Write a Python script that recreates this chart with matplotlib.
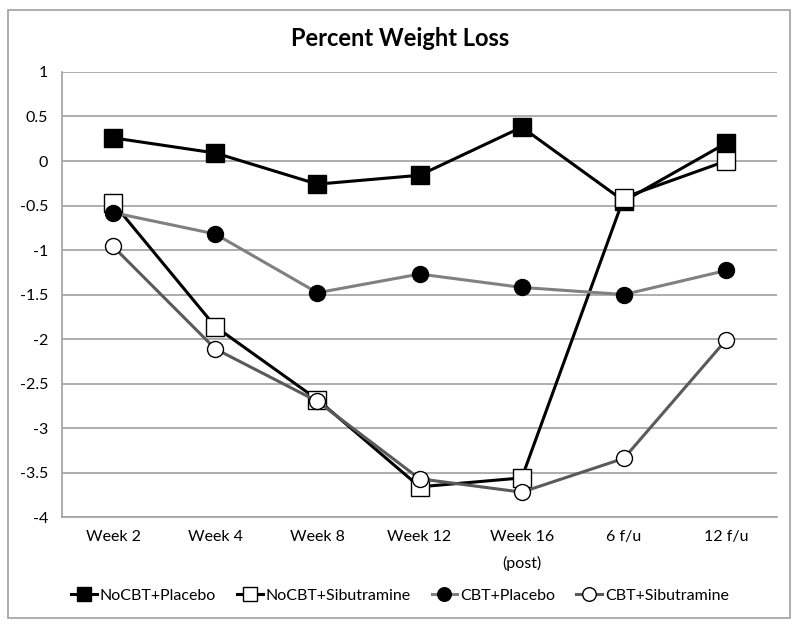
import matplotlib.pyplot as plt
from matplotlib.patches import Rectangle

plt.rcParams['font.family'] = ['Lato', 'DejaVu Sans']

# Dados
categorias = ['Week 2', 'Week 4', 'Week 8', 'Week 12', 'Week 16\n(post)', '6 f/u', '12 f/u']
nocbt_placebo = [0.26, 0.09, -0.26, -0.16, 0.38, -0.45, 0.20]
nocbt_sibutramine = [-0.47, -1.86, -2.68, -3.66, -3.56, -0.41, 0.00]
cbt_placebo = [-0.58, -0.82, -1.48, -1.27, -1.42, -1.50, -1.23]
cbt_sibutramine = [-0.96, -2.11, -2.70, -3.57, -3.72, -3.34, -2.01]
yticks = [1, 0.5, 0, -0.5, -1, -1.5, -2, -2.5, -3, -3.5, -4]

# (valores, rótulo, cor da linha, marcador, cor do marcador)
series = [
    (nocbt_placebo, 'NoCBT+Placebo', '#000000', 's', '#000000'),
    (nocbt_sibutramine, 'NoCBT+Sibutramine', '#000000', 's', 'white'),
    (cbt_placebo, 'CBT+Placebo', '#808080', 'o', '#000000'),
    (cbt_sibutramine, 'CBT+Sibutramine', '#5a5a5a', 'o', 'white'),
]

fig = plt.figure(figsize=(8, 6.26), dpi=100)
ax = fig.add_axes([0.0775, 0.174, 0.894, 0.711])

x = range(len(categorias))
for valores, nome, cor, marc, cor_marc in series:
    ms = 12.5 if marc == 's' else 11.5
    ax.plot(x, valores, color=cor, linewidth=2.2, marker=marc, markersize=ms,
            markerfacecolor=cor_marc, markeredgecolor='#000000', markeredgewidth=1.0,
            label=nome, zorder=3)

ax.set_xlim(-0.5, len(categorias) - 0.5)
ax.set_ylim(-4, 1)
ax.set_yticks(yticks)
ax.set_yticklabels([f'{v:g}' for v in yticks])
ax.set_xticks(list(x))
ax.set_xticklabels(categorias)
for rotulo in ax.get_xticklabels():
    rotulo.set_linespacing(2.0)
ax.tick_params(axis='both', length=0, labelsize=11.5)
ax.tick_params(axis='y', pad=10)
ax.tick_params(axis='x', pad=9)
ax.grid(axis='y', color='#a0a0a0', linewidth=1.2)
ax.set_axisbelow(True)
for lado in ['top', 'right']:
    ax.spines[lado].set_visible(False)
for lado in ['left', 'bottom']:
    ax.spines[lado].set_color('#a0a0a0')
    ax.spines[lado].set_linewidth(1.2)

fig.suptitle('Percent Weight Loss', fontsize=17, fontweight='bold', y=0.939, va='center')

fig.legend(loc='center', bbox_to_anchor=(0.5, 0.048), ncol=4, frameon=False,
           fontsize=11.5, handlelength=1.6, handletextpad=0.2, columnspacing=1.3,
           markerscale=0.85)

# Moldura exterior do gráfico
fig.patches.append(Rectangle((8 / 800, 8 / 626), 782 / 800, 608 / 626,
                             transform=fig.transFigure, fill=False,
                             edgecolor='#a0a0a0', linewidth=1.2))

plt.savefig('out.png', dpi=100)
